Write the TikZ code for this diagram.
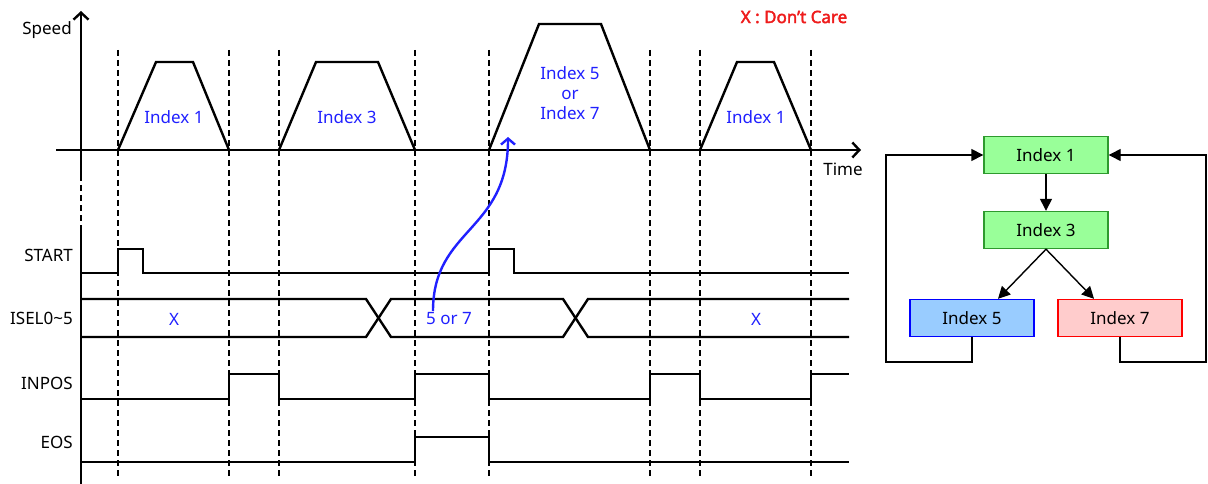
\documentclass[tikz,border=0pt]{standalone}
\usepackage{fontspec}
\setmainfont{Noto Sans}[AutoFakeBold=2.5]
\usetikzlibrary{arrows.meta,positioning}
\definecolor{ink}{HTML}{000000}
\definecolor{idx}{HTML}{2020FF}
\definecolor{care}{HTML}{EE1C1C}
\definecolor{gfill}{HTML}{99FF99}
\definecolor{gline}{HTML}{2E9A2E}
\definecolor{bfill}{HTML}{99CCFF}
\definecolor{bline}{HTML}{0000FF}
\definecolor{rfill}{HTML}{FFCCCC}
\definecolor{rline}{HTML}{FF0000}

\begin{document}
\begin{tikzpicture}[x=1pt,y=-1pt,
  every node/.style={font=\fontsize{17}{20}\selectfont,inner sep=0pt},
  sig/.style={ink,line width=2.4pt},
  guide/.style={ink,line width=1.3pt,dash pattern=on 6pt off 4pt},
  tag/.style={anchor=east},
  idxtxt/.style={idx,align=center},
  box/.style={draw,line width=1.4pt,minimum width=124pt,minimum height=37pt},
  flow/.style={line width=1.4pt,-{Triangle[length=12pt,width=12pt]}}]
\useasboundingbox (0,0) rectangle (1208,484);
% axes
\draw[sig,-{Straight Barb[length=7pt,width=15pt]}] (81,175) -- (81,11);
\draw[guide] (81,175) -- (81,228);
\draw[sig] (81,228) -- (81,484);
\draw[sig,-{Straight Barb[length=7pt,width=15pt]}] (56,150) -- (861,150);
\node (speed) at (47,30) {Speed};
\node (time) at (843,169) {Time};
\node[care,font=\fontsize{17}{20}\selectfont\bfseries] (dontcare) at (794,17) {X : Don’t Care};
% guides
\foreach \x in {118,229,279,415,489,650,700,811}{\draw[guide] (\x,50)--(\x,478);}
% speed profiles
\foreach \a/\b/\c/\d/\h in {118/156/193/229/62,279/316/378/415/62,489/539/601/650/24,700/737/774/811/62}{\draw[sig,line join=miter] (\a,150)--(\b,\h)--(\c,\h)--(\d,150);}
\node[idxtxt] (prof1) at (174,117) {Index 1};
\node[idxtxt] (prof3) at (347,117) {Index 3};
\node[idxtxt,font=\fontsize{17}{20}\selectfont] (prof57) at (570,93) {Index 5\\or\\Index 7};
\node[idxtxt] (prof1b) at (756,117) {Index 1};
% signals
\node[tag] (start) at (73,255) {START};
\node[tag] (isel) at (73,318) {ISEL0\textasciitilde5};
\node[tag] (inpos) at (73,383) {INPOS};
\node[tag] (eos) at (73,442) {EOS};
\draw[sig] (81,273)--(118,273)--(118,249)--(143,249)--(143,273)--(489,273)--(489,249)--(514,249)--(514,273)--(849,273);
\draw[sig] (81,299)--(366,299)--(391,337)--(563,337)--(588,299)--(849,299);
\draw[sig] (81,337)--(366,337)--(391,299)--(563,299)--(588,337)--(849,337);
\draw[sig] (81,399)--(229,399)--(229,374)--(279,374)--(279,399)--(415,399)--(415,374)--(489,374)--(489,399)--(650,399)--(650,374)--(700,374)--(700,399)--(811,399)--(811,374)--(849,374);
\draw[sig] (81,462)--(415,462)--(415,437)--(489,437)--(489,462)--(849,462);
\node[idx] (selx) at (174,319) {X};
\node[idx] (sel) at (449,319) {5 or 7};
\node[idx] (selxb) at (756,319) {X};
% selection pointer
\coordinate (pick) at (433,311);
\coordinate (go) at (508,137);
\draw[idx,line width=2.4pt,-{Straight Barb[length=6pt,width=14pt]}] (pick) .. controls (433,228) and (508,232) .. (go);
% index sequence
\node[box,fill=gfill,draw=gline] (i1) at (1046,155) {Index 1};
\node[box,fill=gfill,draw=gline] (i3) at (1046,230) {Index 3};
\node[box,fill=bfill,draw=bline] (i5) at (972,318) {Index 5};
\node[box,fill=rfill,draw=rline] (i7) at (1120,318) {Index 7};
\draw[flow] (i1) -- (i3);
\draw[flow] (i3.south) -- ([xshift=26pt]i5.north);
\draw[flow] (i3.south) -- ([xshift=-26pt]i7.north);
\draw[flow] (i5.south) |- (886,362) |- (i1.west);
\draw[flow] (i7.south) |- (1206,362) |- (i1.east);
\end{tikzpicture}
\end{document}
